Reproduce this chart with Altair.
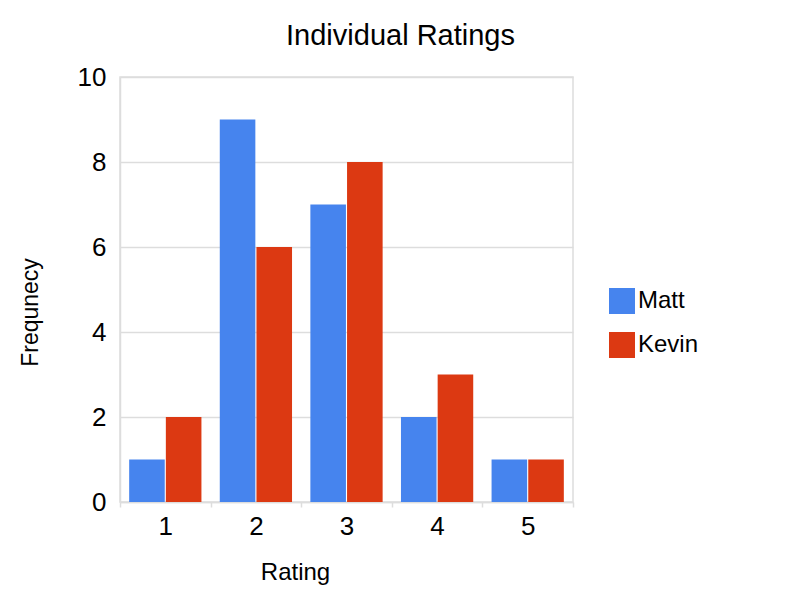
import altair as alt
import pandas as pd

ratings = ["1", "2", "3", "4", "5"]
matt = [1, 9, 7, 2, 1]
kevin = [2, 6, 8, 3, 1]
series = ["Matt", "Kevin"]
colors = ["#4684EE", "#DC3912"]

rows = []
for r, m, k in zip(ratings, matt, kevin):
    rows.append({"Rating": r, "Person": "Matt", "Frequency": m})
    rows.append({"Rating": r, "Person": "Kevin", "Frequency": k})
df = pd.DataFrame(rows)

FONT = "Liberation Sans"
GRID = "#dddddd"

chart = alt.Chart(df).mark_bar().encode(
    x=alt.X(
        "Rating:N",
        sort=ratings,
        scale=alt.Scale(paddingInner=0, paddingOuter=0),
        axis=alt.Axis(
            title="Rating",
            labelAngle=0,
            tickBand="extent",
            tickColor=GRID,
            tickSize=5,
            tickWidth=1.5,
            domainColor=GRID,
            domainWidth=1.5,
            labelPadding=6,
            labelFontSize=26,
            labelColor="black",
            titleFontSize=24,
            titleFontWeight="normal",
            titleColor="black",
            titleX=175,
            titleY=70,
            titleBaseline="middle",
            titleAlign="center",
        ),
    ),
    xOffset=alt.XOffset(
        "Person:N",
        sort=series,
        scale=alt.Scale(paddingInner=0.03, paddingOuter=0.25),
    ),
    y=alt.Y(
        "Frequency:Q",
        scale=alt.Scale(domain=[0, 10]),
        axis=alt.Axis(
            title="Frequnecy",
            values=[0, 2, 4, 6, 8, 10],
            ticks=False,
            tickSize=0,
            domainColor=GRID,
            domainWidth=1.5,
            gridColor=GRID,
            gridWidth=1.5,
            labelPadding=14,
            labelFontSize=26,
            labelColor="black",
            titleFontSize=23,
            titleFontWeight="normal",
            titleColor="black",
            titleX=-90,
            titleY=235,
            titleBaseline="middle",
            titleAlign="center",
        ),
    ),
    color=alt.Color(
        "Person:N",
        sort=series,
        scale=alt.Scale(domain=series, range=colors),
        legend=alt.Legend(
            title=None,
            orient="none",
            legendX=489,
            legendY=211,
            symbolType="square",
            symbolSize=676,
            symbolStrokeWidth=0,
            symbolOpacity=1,
            labelFontSize=24,
            labelColor="black",
            labelOffset=3,
            rowPadding=18,
        ),
    ),
).properties(
    width=453,
    height=425,
    title=alt.TitleParams(
        "Individual Ratings",
        fontSize=29,
        fontWeight="normal",
        color="black",
        anchor="middle",
        dx=54,
        offset=13,
    ),
    autosize=alt.AutoSizeParams(type="none"),
    padding={"left": 112, "top": 69, "right": 219, "bottom": 90},
).configure(
    font=FONT,
).configure_view(
    stroke=GRID,
    strokeWidth=1.5,
)

chart.save("out.html", embed_options={"renderer": "svg", "actions": False})
